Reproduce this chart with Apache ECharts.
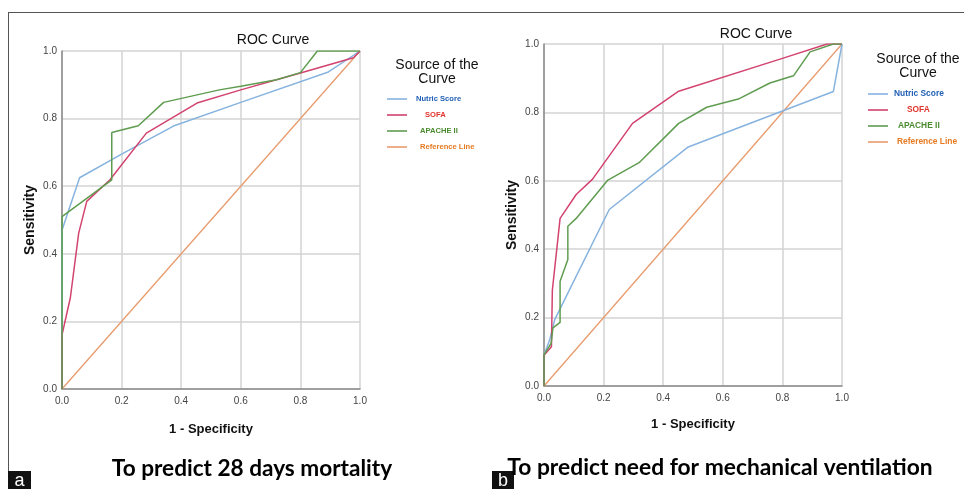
<!DOCTYPE html>
<html>
<head>
<meta charset="utf-8">
<script src="https://cdn.jsdelivr.net/npm/echarts@6/dist/echarts.min.js"></script>
<style>
html,body{margin:0;padding:0;background:#fff;}
#chart{width:964px;height:489px;}
</style>
</head>
<body>
<div id="chart"></div>
<script>
// ---- Data (1 - Specificity, Sensitivity) ----
const seriesNames = ['Nutric Score', 'SOFA', 'APACHE II', 'Reference Line'];
const tickValues = [0, 0.2, 0.4, 0.6, 0.8, 1.0];

// Panel a: To predict 28 days mortality
const aNutric = [[0,0],[0,0.47],[0.059,0.625],[0.20,0.695],[0.374,0.778],[0.60,0.848],[0.894,0.938],[1,1]];
const aSofa = [[0,0],[0,0.16],[0.028,0.27],[0.056,0.461],[0.083,0.555],[0.161,0.619],[0.283,0.757],[0.453,0.846],[0.60,0.885],[0.80,0.935],[0.978,0.98],[1,1]];
const aApache = [[0,0],[0,0.51],[0.167,0.619],[0.167,0.759],[0.256,0.779],[0.341,0.848],[0.528,0.885],[0.60,0.896],[0.72,0.915],[0.80,0.936],[0.857,1],[1,1]];
const aRef = [[0,0],[1,1]];

// Panel b: To predict need for mechanical ventilation
const bNutric = [[0,0],[0,0.09],[0.019,0.135],[0.036,0.194],[0.219,0.516],[0.484,0.699],[0.80,0.804],[0.971,0.861],[1,1]];
const bSofa = [[0,0],[0,0.09],[0.025,0.115],[0.028,0.28],[0.054,0.49],[0.108,0.56],[0.163,0.605],[0.297,0.768],[0.452,0.862],[0.80,0.958],[0.95,1],[1,1]];
const bApache = [[0,0],[0,0.091],[0.024,0.125],[0.03,0.17],[0.054,0.186],[0.054,0.306],[0.08,0.37],[0.08,0.467],[0.108,0.49],[0.213,0.601],[0.319,0.653],[0.452,0.768],[0.546,0.815],[0.652,0.839],[0.758,0.886],[0.837,0.907],[0.893,0.977],[0.971,1],[1,1]];
const bRef = [[0,0],[1,1]];

const panelTitles = ['ROC Curve', 'ROC Curve'];
const captions = ['To predict 28 days mortality', 'To predict need for mechanical ventilation'];
const panelLetters = ['a', 'b'];

// ---- Styles ----
const lineColors = ['#86b3df', '#d2436f', '#5f9c50', '#e89b6d'];
const legendTextColors = ['#2160b5', '#e0352c', '#4a8a2e', '#e67a22'];
const FONT = '"Liberation Sans", Arial, sans-serif';

const chart = echarts.init(document.getElementById('chart'), null, {renderer: 'canvas'});

function xAxisCfg(gi, nameGap) {
  return {
    type: 'value', gridIndex: gi, min: 0, max: 1, interval: 0.2,
    name: '1 - Specificity', nameLocation: 'middle', nameGap: nameGap,
    nameTextStyle: {fontFamily: FONT, fontSize: 13, fontWeight: 'bold', color: '#111'},
    axisLine: {show: true, lineStyle: {color: '#8a8a8a', width: 1.5}},
    axisTick: {show: false},
    axisLabel: {fontFamily: FONT, fontSize: 10, color: '#444', margin: 7, formatter: v => v.toFixed(1)},
    splitLine: {show: true, lineStyle: {color: '#d3d3d3', width: 1.5}}
  };
}
function yAxisCfg(gi, nameGap) {
  return {
    type: 'value', gridIndex: gi, min: 0, max: 1, interval: 0.2,
    name: 'Sensitivity', nameLocation: 'middle', nameGap: nameGap, nameRotate: 90,
    nameTextStyle: {fontFamily: FONT, fontSize: 14, fontWeight: 'bold', color: '#111'},
    axisLine: {show: true, lineStyle: {color: '#8a8a8a', width: 1.5}},
    axisTick: {show: false},
    axisLabel: {fontFamily: FONT, fontSize: 10, color: '#444', margin: 5, formatter: v => v.toFixed(1)},
    splitLine: {show: true, lineStyle: {color: '#d3d3d3', width: 1.5}}
  };
}
function lineSeries(name, data, gi, ci) {
  return {
    type: 'line', name: name, data: data, xAxisIndex: gi, yAxisIndex: gi,
    showSymbol: false, symbol: 'none', smooth: false, animation: false,
    lineStyle: {color: lineColors[ci], width: ci === 3 ? 1.3 : 1.5},
    itemStyle: {color: lineColors[ci]},
    z: ci === 3 ? 1 : 2
  };
}
function legendCfg(left, top, pads, fontSize) {
  return {
    orient: 'vertical', left: left, top: top, padding: 0,
    itemWidth: 20, itemHeight: 10, itemGap: 6,
    icon: 'path://M0,0 L20,0 L20,1.6 L0,1.6 Z', symbolKeepAspect: true,
    selectedMode: false,
    data: seriesNames.map((n, i) => ({name: n, textStyle: {color: legendTextColors[i], padding: pads[i]}})),
    textStyle: {fontFamily: FONT, fontSize: fontSize, fontWeight: 'bold', lineHeight: 10}
  };
}

const option = {
  backgroundColor: '#fff',
  animation: false,
  title: [
    {text: panelTitles[0], left: 268, top: 28, textAlign: 'center', textStyle: {fontFamily: FONT, fontSize: 14, fontWeight: 'normal', color: '#111'}},
    {text: panelTitles[1], left: 751, top: 22, textAlign: 'center', textStyle: {fontFamily: FONT, fontSize: 14, fontWeight: 'normal', color: '#111'}},
    {text: 'Source of the\nCurve', left: 432, top: 53, textAlign: 'center', textStyle: {fontFamily: FONT, fontSize: 14, fontWeight: 'normal', color: '#111', lineHeight: 14}},
    {text: 'Source of the\nCurve', left: 913, top: 47, textAlign: 'center', textStyle: {fontFamily: FONT, fontSize: 14, fontWeight: 'normal', color: '#111', lineHeight: 14}}
  ],
  legend: [
    legendCfg(387, 94, [[0,0,0,4],[0,0,0,13],[0,0,0,8],[0,0,0,8]], 7.6),
    legendCfg(868, 89, [[0,0,0,1],[0,0,0,14],[0,0,0,5],[0,0,0,4]], 8.4)
  ],
  grid: [
    {left: 62, top: 51, width: 298, height: 338, containLabel: false},
    {left: 544, top: 44, width: 298, height: 342, containLabel: false}
  ],
  xAxis: [xAxisCfg(0, 34), xAxisCfg(1, 32)],
  yAxis: [yAxisCfg(0, 25), yAxisCfg(1, 25)],
  series: [
    lineSeries(seriesNames[3], aRef, 0, 3),
    lineSeries(seriesNames[0], aNutric, 0, 0),
    lineSeries(seriesNames[1], aSofa, 0, 1),
    lineSeries(seriesNames[2], aApache, 0, 2),
    lineSeries(seriesNames[3], bRef, 1, 3),
    lineSeries(seriesNames[0], bNutric, 1, 0),
    lineSeries(seriesNames[1], bSofa, 1, 1),
    lineSeries(seriesNames[2], bApache, 1, 2)
  ],
  graphic: [
    {type: 'line', shape: {x1: 8, y1: 12.5, x2: 964, y2: 12.5}, style: {stroke: '#555', lineWidth: 1}},
    {type: 'line', shape: {x1: 8.5, y1: 12, x2: 8.5, y2: 472}, style: {stroke: '#555', lineWidth: 1}},
    {type: 'rect', shape: {x: 8, y: 471, width: 23, height: 18}, style: {fill: '#111'}},
    {type: 'text', x: 19.5, y: 481, style: {text: panelLetters[0], fill: '#fff', font: '18px ' + FONT, align: 'center', verticalAlign: 'middle'}},
    {type: 'rect', shape: {x: 492, y: 471, width: 22, height: 18}, style: {fill: '#111'}},
    {type: 'text', x: 503, y: 481, style: {text: panelLetters[1], fill: '#fff', font: '18px ' + FONT, align: 'center', verticalAlign: 'middle'}},
    {type: 'text', x: 252, y: 469, z: 10, style: {text: captions[0], fill: '#000', font: 'bold 22.6px Lato, ' + FONT, align: 'center', verticalAlign: 'middle'}},
    {type: 'text', x: 720, y: 468, z: 10, style: {text: captions[1], fill: '#000', font: 'bold 22.8px Lato, ' + FONT, align: 'center', verticalAlign: 'middle'}}
  ]
};
chart.setOption(option);
</script>
</body>
</html>
